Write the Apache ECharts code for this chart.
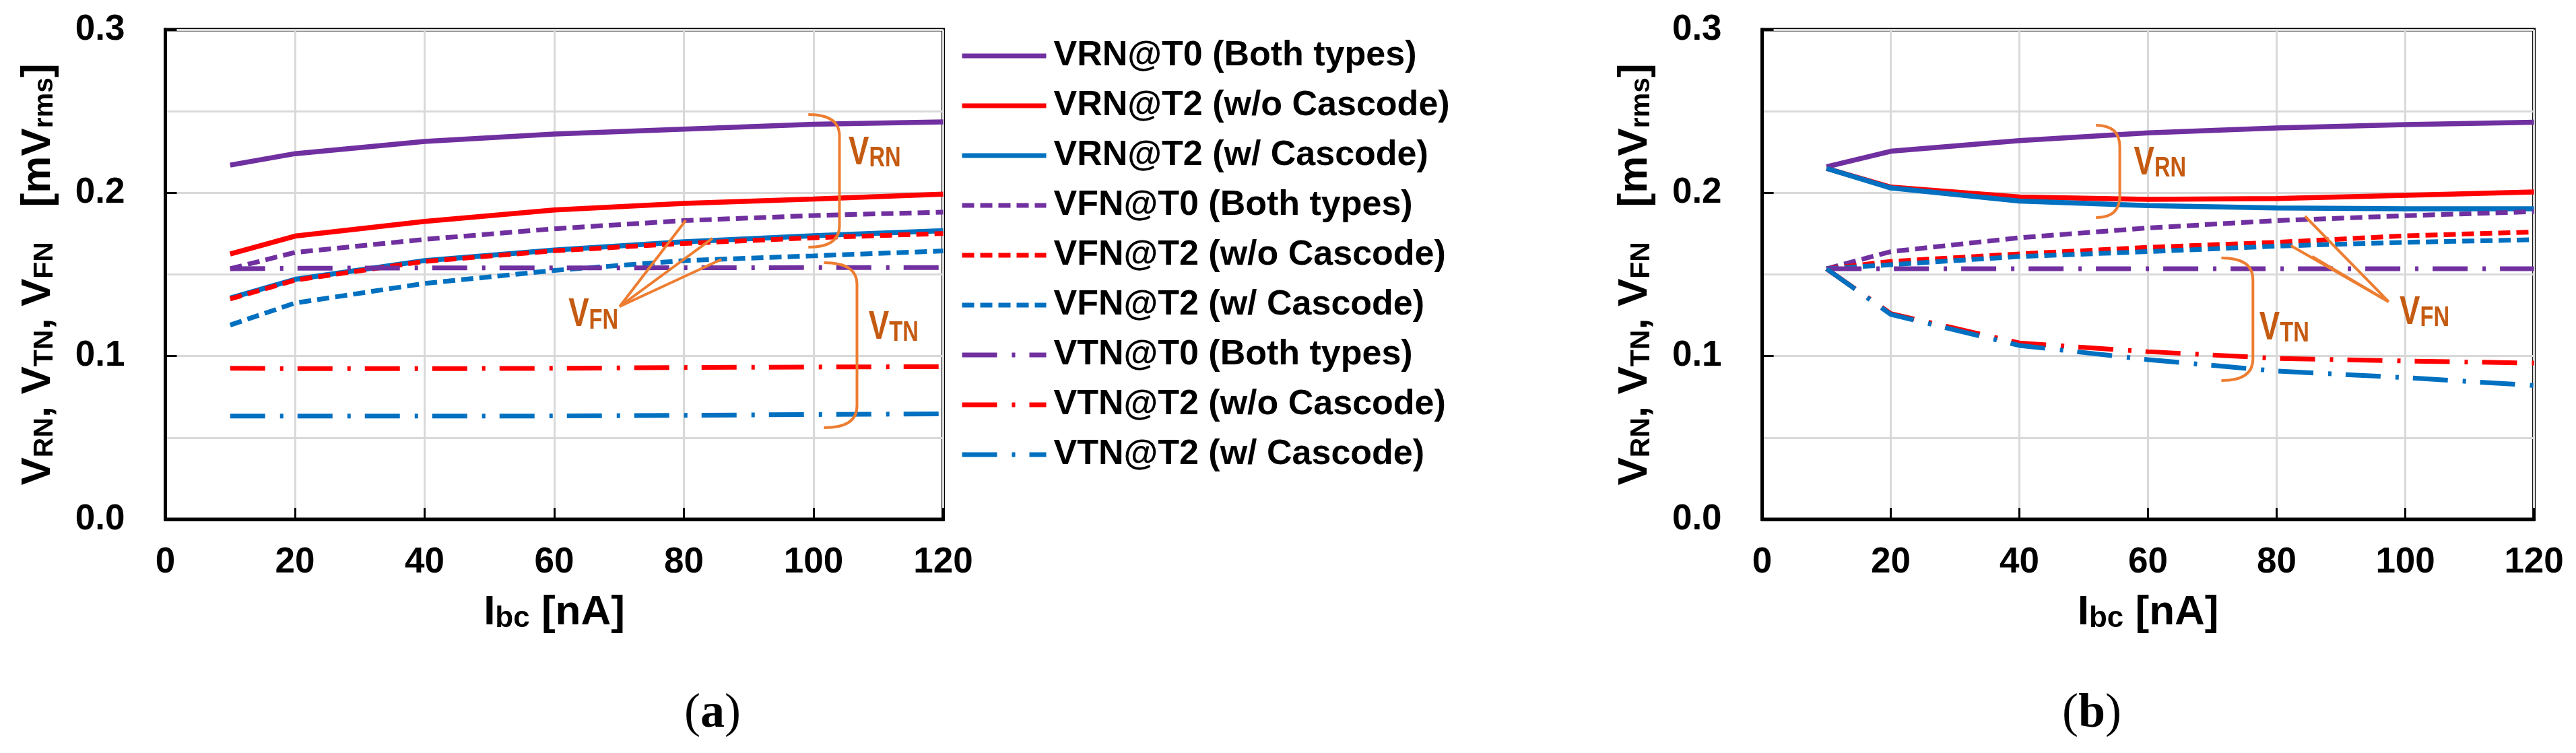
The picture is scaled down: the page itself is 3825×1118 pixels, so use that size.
<!DOCTYPE html>
<html><head><meta charset="utf-8">
<script src="https://cdn.jsdelivr.net/npm/echarts@6/dist/echarts.min.js"></script>
<style>html,body{margin:0;padding:0;background:#fff}#c{width:3825px;height:1118px}</style>
</head><body><div id="c"></div>
<script>
// ---------------- DATA ----------------
const xVals = [10, 20, 40, 60, 80, 100, 120];
const seriesNames = ['VRN@T0 (Both types)', 'VRN@T2 (w/o Cascode)', 'VRN@T2 (w/ Cascode)',
  'VFN@T0 (Both types)', 'VFN@T2 (w/o Cascode)', 'VFN@T2 (w/ Cascode)',
  'VTN@T0 (Both types)', 'VTN@T2 (w/o Cascode)', 'VTN@T2 (w/ Cascode)'];

// panel (a)
const a_VRN_T0    = [0.217, 0.224, 0.2315, 0.236, 0.239, 0.242, 0.2435];
const a_VRN_T2_wo = [0.1625, 0.1735, 0.1825, 0.1895, 0.1935, 0.1962, 0.1992];
const a_VRN_T2_w  = [0.1355, 0.147, 0.1585, 0.165, 0.170, 0.1737, 0.1768];
const a_VFN_T0    = [0.1535, 0.1635, 0.1715, 0.178, 0.183, 0.1861, 0.1882];
const a_VFN_T2_wo = [0.135, 0.1465, 0.158, 0.1645, 0.169, 0.1725, 0.1751];
const a_VFN_T2_w  = [0.119, 0.1325, 0.1445, 0.1525, 0.1585, 0.1614, 0.1644];
const a_VTN_T0    = [0.1535, 0.1538, 0.154, 0.154, 0.1541, 0.1542, 0.1542];
const a_VTN_T2_wo = [0.0925, 0.0923, 0.0923, 0.0925, 0.093, 0.0933, 0.0935];
const a_VTN_T2_w  = [0.0632, 0.0632, 0.0632, 0.0633, 0.0637, 0.0642, 0.0646];

// panel (b)
const b_VRN_T0    = [0.216, 0.2255, 0.232, 0.2368, 0.2398, 0.2418, 0.2433];
const b_VRN_T2_wo = [0.215, 0.2035, 0.1975, 0.196, 0.1965, 0.1985, 0.2005];
const b_VRN_T2_w  = [0.215, 0.203, 0.195, 0.1922, 0.1907, 0.1902, 0.1902];
const b_VFN_T0    = [0.1535, 0.164, 0.1725, 0.1785, 0.183, 0.186, 0.1885];
const b_VFN_T2_wo = [0.1535, 0.158, 0.1626, 0.1666, 0.1697, 0.1737, 0.176];
const b_VFN_T2_w  = [0.1535, 0.156, 0.161, 0.164, 0.1674, 0.1697, 0.1713];
const b_VTN_T0    = [0.1535, 0.1535, 0.1535, 0.1535, 0.1535, 0.1535, 0.1535];
const b_VTN_T2_wo = [0.1535, 0.126, 0.108, 0.1027, 0.0986, 0.097, 0.0957];
const b_VTN_T2_w  = [0.1535, 0.1255, 0.1065, 0.0978, 0.0908, 0.0868, 0.082];

const panelA = [a_VRN_T0, a_VRN_T2_wo, a_VRN_T2_w, a_VFN_T0, a_VFN_T2_wo, a_VFN_T2_w, a_VTN_T0, a_VTN_T2_wo, a_VTN_T2_w];
const panelB = [b_VRN_T0, b_VRN_T2_wo, b_VRN_T2_w, b_VFN_T0, b_VFN_T2_wo, b_VFN_T2_w, b_VTN_T0, b_VTN_T2_wo, b_VTN_T2_w];

// ---------------- STYLE ----------------
const PURPLE = '#7030A0', RED = '#FF0000', BLUE = '#0070C0';
const ORANGE = '#ED7D31', ORANGE_TXT = '#C55A11';
const colors = [PURPLE, RED, BLUE, PURPLE, RED, BLUE, PURPLE, RED, BLUE];
const DASH = [18, 9], DASHDOT = [52, 22, 5, 21];
const lineTypes = ['solid', 'solid', 'solid', DASH, DASH, DASH, DASHDOT, DASHDOT, DASHDOT];
const lineWidths = [7.5, 7.5, 7.5, 7, 7, 7, 7, 7, 7];
const FONT = "'Liberation Sans', Arial, sans-serif";
const SERIF = "'Liberation Serif', 'Times New Roman', serif";

const grids = [
  {left: 245.5, top: 44, width: 1155, height: 727},
  {left: 2616.6, top: 44, width: 1146, height: 727}
];

function xAxisFor(i) {
  return {
    gridIndex: i, type: 'value', min: 0, max: 120, interval: 20,
    axisLine: {show: true, onZero: false, lineStyle: {color: '#000', width: 5}},
    axisTick: {show: true, inside: true, length: 17, lineStyle: {color: '#000', width: 3}},
    axisLabel: {margin: 38, fontSize: 53, fontWeight: 'bold', color: '#000', fontFamily: FONT},
    splitLine: {show: true, lineStyle: {color: '#D9D9D9', width: 3}},
    name: '{v|I}{s|bc}{v| [nA]}', nameLocation: 'middle', nameGap: 108,
    nameTextStyle: {fontFamily: FONT, color: '#000', rich: {
      v: {fontSize: 62, fontWeight: 'bold', fontFamily: FONT, color: '#000', lineHeight: 62, verticalAlign: 'top'},
      s: {fontSize: 44, fontWeight: 'bold', fontFamily: FONT, color: '#000', lineHeight: 36, verticalAlign: 'bottom'}
    }}
  };
}
function yAxisFor(i) {
  return {
    gridIndex: i, type: 'value', min: 0, max: 0.3, interval: 0.1,
    axisLine: {show: true, onZero: false, lineStyle: {color: '#000', width: 5}},
    axisTick: {show: true, inside: true, length: 17, lineStyle: {color: '#000', width: 3}},
    minorTick: {show: false, splitNumber: 2},
    minorSplitLine: {show: true, lineStyle: {color: '#D9D9D9', width: 3}},
    axisLabel: {margin: 60, fontSize: 53, fontWeight: 'bold', color: '#000', fontFamily: FONT,
      formatter: v => v.toFixed(1)},
    splitLine: {show: true, lineStyle: {color: '#D9D9D9', width: 3}},
    name: '{v|V}{s|RN}{v|, V}{s|TN}{v|, V}{s|FN}{v|   [mV}{s|rms}{v|]}',
    nameLocation: 'middle', nameRotate: 90, nameGap: 158,
    nameTextStyle: {fontFamily: FONT, color: '#000', rich: {
      v: {fontSize: 62, fontWeight: 'bold', fontFamily: FONT, color: '#000', lineHeight: 62, verticalAlign: 'top'},
      s: {fontSize: 41, fontWeight: 'bold', fontFamily: FONT, color: '#000', lineHeight: 30, verticalAlign: 'bottom'}
    }}
  };
}

function makeSeries(panel, gi) {
  return panel.map((arr, k) => ({
    name: seriesNames[k], type: 'line', xAxisIndex: gi, yAxisIndex: gi,
    data: xVals.map((x, j) => [x, arr[j]]),
    symbol: 'none', showSymbol: false, smooth: false,
    lineStyle: {color: colors[k], width: lineWidths[k], type: lineTypes[k], cap: 'butt'},
    itemStyle: {color: colors[k]},
    z: 3 + k
  }));
}

const chart = echarts.init(document.getElementById('c'));
chart.setOption({
  animation: false,
  backgroundColor: '#fff',
  textStyle: {fontFamily: FONT},
  grid: grids.map(g => Object.assign({show: true, borderColor: '#000', borderWidth: 5, backgroundColor: 'transparent'}, g)),
  xAxis: [xAxisFor(0), xAxisFor(1)],
  yAxis: [yAxisFor(0), yAxisFor(1)],
  legend: {
    orient: 'vertical', left: 1420, top: 52, itemWidth: 125, itemHeight: 60, itemGap: 22,
    data: seriesNames, itemStyle: {opacity: 0}, lineStyle: {width: 7},
    textStyle: {fontSize: 52, fontWeight: 'bold', color: '#000', fontFamily: FONT, padding: [0, 0, 0, 6]}
  },
  series: makeSeries(panelA, 0).concat(makeSeries(panelB, 1))
});

// ---------------- ANNOTATIONS (in data coordinates) ----------------
const braces = [
  {g: 0, xTop: 99.2, yTop: 0.248, xMid: 104.0, yBot: 0.1667},
  {g: 0, xTop: 101.6, yTop: 0.1572, xMid: 106.7, yBot: 0.0561},
  {g: 1, xTop: 51.9, yTop: 0.2414, xMid: 55.6, yBot: 0.1849},
  {g: 1, xTop: 71.4, yTop: 0.1601, xMid: 76.3, yBot: 0.085}
];
const labels = [
  {g: 0, x: 105.4, y: 0.2344, sub: 'RN'},
  {g: 0, x: 108.5, y: 0.1275, sub: 'TN'},
  {g: 0, x: 62.2, y: 0.135, sub: 'FN'},
  {g: 1, x: 57.8, y: 0.2282, sub: 'RN'},
  {g: 1, x: 77.3, y: 0.1271, sub: 'TN'},
  {g: 1, x: 99.1, y: 0.1366, sub: 'FN'}
];
const arrows = [
  {g: 0, from: [70.1, 0.1304], to: [[80.3, 0.1832], [84.4, 0.1721], [85.8, 0.1593]]},
  {g: 1, from: [97.4, 0.1333], to: [[84.4, 0.1857], [82.2, 0.1676], [85.5, 0.161]]}
];
const captions = [
  {x: 1058, y: 1060, t: 'a'},
  {x: 3106, y: 1060, t: 'b'}
];

function px(g, p) { return chart.convertToPixel({gridIndex: g}, p); }
const graphics = [];
const braceStyle = {stroke: ORANGE, lineWidth: 4, fill: null};
braces.forEach(b => {
  const p1 = px(b.g, [b.xTop, b.yTop]), p2 = px(b.g, [b.xTop, b.yBot]);
  const mx = px(b.g, [b.xMid, b.yTop])[0];
  const r = 32;
  graphics.push({type: 'bezierCurve', z: 100, style: braceStyle,
    shape: {x1: p1[0], y1: p1[1], cpx1: mx, cpy1: p1[1], x2: mx, y2: p1[1] + r}});
  graphics.push({type: 'line', z: 100, style: braceStyle,
    shape: {x1: mx, y1: p1[1] + r, x2: mx, y2: p2[1] - r}});
  graphics.push({type: 'bezierCurve', z: 100, style: braceStyle,
    shape: {x1: mx, y1: p2[1] - r, cpx1: mx, cpy1: p2[1], x2: p2[0], y2: p2[1]}});
});
arrows.forEach(a => {
  const f = px(a.g, a.from);
  a.to.forEach(t => {
    const q = px(a.g, t);
    graphics.push({type: 'line', shape: {x1: f[0], y1: f[1], x2: q[0], y2: q[1]}, style: {stroke: ORANGE, lineWidth: 4}, z: 100});
  });
});
labels.forEach(l => {
  const p = px(l.g, [l.x, l.y]);
  graphics.push({type: 'text', x: p[0], y: p[1] - 6, scaleX: 0.76, z: 101, style: {
    text: '{m|V}{s|' + l.sub + '}', align: 'left', verticalAlign: 'top',
    rich: {
      m: {fontSize: 60, fontWeight: 'bold', fontFamily: FONT, fill: ORANGE_TXT, lineHeight: 60, verticalAlign: 'top'},
      s: {fontSize: 43, fontWeight: 'bold', fontFamily: FONT, fill: ORANGE_TXT, lineHeight: 30, verticalAlign: 'bottom'}
    }
  }});
});
captions.forEach(c => {
  graphics.push({type: 'text', x: c.x, y: c.y, z: 101, style: {
    text: '{n|(}{b|' + c.t + '}{n|)}', align: 'center', verticalAlign: 'middle',
    rich: {
      n: {fontSize: 72, fontFamily: SERIF, fill: '#000'},
      b: {fontSize: 72, fontWeight: 'bold', fontFamily: SERIF, fill: '#000'}
    }
  }});
});
chart.setOption({graphic: {elements: graphics}});
</script>
</body></html>
